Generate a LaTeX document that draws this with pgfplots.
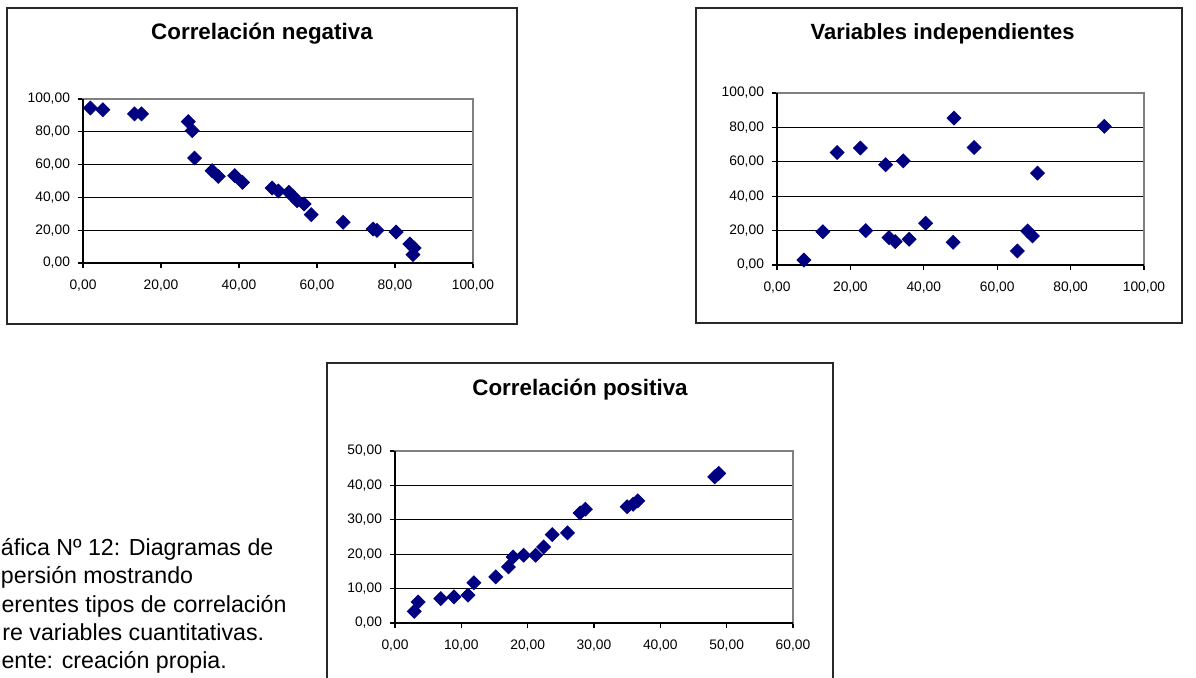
\documentclass[border=0pt]{standalone}
\usepackage{pgfplots}
\pgfplotsset{compat=1.18}
\usepackage{fontspec}
\setmainfont{Liberation Sans}

\definecolor{navy}{RGB}{0,0,128}
\definecolor{plotborder}{RGB}{128,128,128}
\definecolor{framecol}{RGB}{40,40,40}

\pgfplotsset{
  scatterbox/.style={
    scale only axis,
    axis background/.style={fill=white},
    axis line style={draw=plotborder, line width=1pt},
    ymajorgrids,
    major grid style={black, line width=0.55pt},
    tick align=outside,
    major tick length=2.5pt,
    tick style={black, line width=0.6pt},
    xtick pos=left, ytick pos=left,
    ticklabel style={font=\fontsize{6.9}{7.5}\selectfont},
    xticklabel style={yshift=-2.5pt},
    yticklabel style={xshift=-0.5pt},
    clip=false,
    /pgf/number format/fixed,
    /pgf/number format/fixed zerofill,
    /pgf/number format/precision=2,
    /pgf/number format/use comma,
    /pgf/number format/assume math mode=true,
  },
  diamonds/.style={
    only marks, mark=square*, mark size=2.45pt,
    mark options={rotate=45, draw=navy, fill=navy},
  },
}

\begin{document}
\begin{tikzpicture}
\useasboundingbox (0,0) rectangle (598pt,338.5pt);
\clip (0,0) rectangle (598pt,338.5pt);

% ---------- Correlación negativa ----------
\draw[framecol, line width=1pt] (3.5pt,176.5pt) rectangle (258.5pt,334.5pt);
\node[font=\bfseries\fontsize{11.2}{13}\selectfont] at (131pt,321.5pt) {Correlación negativa};
\begin{axis}[scatterbox, at={(41.5pt,207pt)}, anchor=south west,
  width=195pt, height=82pt,
  xmin=0, xmax=100, ymin=0, ymax=100,
  xtick={0,20,...,100}, ytick={0,20,...,100}]
\addplot[diamonds] coordinates {
  (1.9,94.5) (5.1,93.5) (13.2,90.9) (15.0,90.9) (27.0,86.2) (28.0,80.7)
  (28.6,64.0) (33.1,56.3) (34.7,52.8) (38.9,53.3) (40.9,49.2) (48.5,45.7)
  (50.1,43.9) (52.8,43.1) (53.8,40.7) (54.9,38.0) (56.7,36.0) (58.5,29.5)
  (66.7,24.8) (74.4,20.7) (75.4,19.9) (80.3,18.9) (83.8,11.6) (84.9,9.1)
  (84.6,5.1)
};
\draw[black, line width=0.7pt] (axis cs:0,100) -- (axis cs:0,0) -- (axis cs:100,0);
\end{axis}

% ---------- Variables independientes ----------
\draw[framecol, line width=1pt] (348pt,177pt) rectangle (591pt,334.5pt);
\node[font=\bfseries\fontsize{11}{13}\selectfont] at (471.3pt,321.5pt) {Variables independientes};
\begin{axis}[scatterbox, at={(388.5pt,206pt)}, anchor=south west,
  width=183.5pt, height=86pt,
  xmin=0, xmax=100, ymin=0, ymax=100,
  xtick={0,20,...,100}, ytick={0,20,...,100}]
\addplot[diamonds] coordinates {
  (7.3,2.9) (12.5,19.4) (16.4,65.4) (22.7,68.0) (24.2,20.0) (29.6,58.3)
  (30.5,15.9) (32.2,13.6) (34.4,60.6) (36.0,15.0) (40.5,24.3) (48.2,85.4)
  (48.0,13.2) (53.7,68.3) (65.5,8.2) (68.3,19.8) (69.6,16.9) (71.0,53.4)
  (89.2,80.6)
};
\draw[black, line width=0.7pt] (axis cs:0,100) -- (axis cs:0,0) -- (axis cs:100,0);
\end{axis}

% ---------- Correlación positiva ----------
\draw[framecol, line width=1pt] (163.5pt,-10pt) rectangle (416.5pt,157pt);
\node[font=\bfseries\fontsize{11.2}{13}\selectfont] at (290pt,143.5pt) {Correlación positiva};
\begin{axis}[scatterbox, at={(197.5pt,27pt)}, anchor=south west,
  width=199pt, height=86pt,
  xmin=0, xmax=60, ymin=0, ymax=50,
  xtick={0,10,...,60}, ytick={0,10,...,50}]
\addplot[diamonds] coordinates {
  (2.9,3.4) (3.5,6.1) (6.9,7.1) (8.9,7.6) (11.0,8.1) (11.9,11.7)
  (15.2,13.4) (17.1,16.3) (17.8,19.2) (19.4,19.7) (21.2,19.7) (22.4,22.1)
  (23.7,25.7) (26.0,26.2) (27.9,32.0) (28.7,33.1) (35.0,33.8) (35.9,34.5)
  (36.6,35.5) (48.2,42.5) (48.8,43.5)
};
\draw[black, line width=0.7pt] (axis cs:0,50) -- (axis cs:0,0) -- (axis cs:60,0);
\end{axis}

% ---------- Caption (left edge of the page) ----------
\begin{scope}[every node/.style={anchor=base west, inner sep=0pt, font=\fontsize{11.6}{14}\selectfont}]
\node at (0.3pt,61pt) {áfica Nº 12: Diagramas de};
\node at (0.3pt,47pt) {persión mostrando};
\node at (0.6pt,32.5pt) {erentes tipos de correlación};
\node at (1pt,18.5pt) {re variables cuantitativas.};
\node at (0.6pt,4.5pt) {ente: creación propia.};
\end{scope}
\end{tikzpicture}
\end{document}
